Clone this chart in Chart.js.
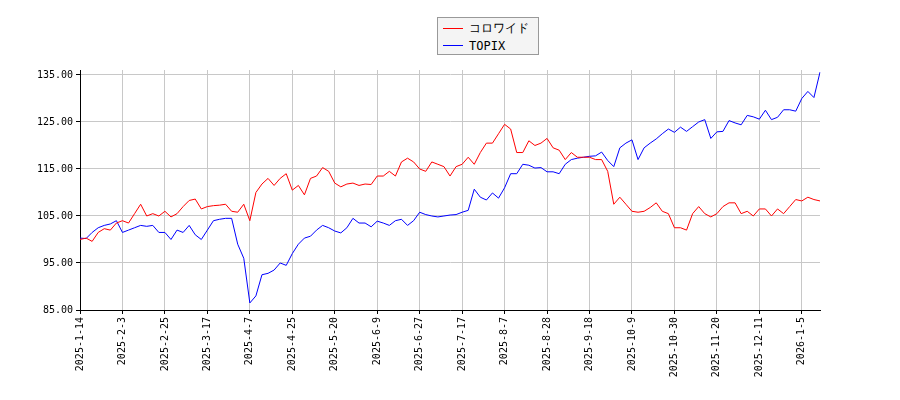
<!DOCTYPE html>
<html>
<head>
<meta charset="utf-8">
<script src="https://cdn.jsdelivr.net/npm/chart.js@4/dist/chart.umd.min.js"></script>
<style>
  body { margin: 0; background: #fff; }
  #wrap { position: relative; width: 900px; height: 400px; }
  #legend {
    position: absolute; left: 437px; top: 17px; width: 102px; height: 38px;
    border: 1px solid #999; background: #f4f4f4; box-sizing: border-box;
    font: 12px "DejaVu Sans Mono", monospace; color: #000;
  }
  .row { display: flex; align-items: center; height: 17px; padding-left: 5px; margin-top: 2px; }
  .sw { width: 20px; height: 0; border-top: 1.5px solid; margin-right: 6px; }
</style>
</head>
<body>
<div id="wrap">
  <canvas id="c" width="900" height="400"></canvas>
  <div id="legend">
    <div class="row"><span class="sw" style="border-color:#f00"></span>コロワイド</div>
    <div class="row" style="margin-top:0"><span class="sw" style="border-color:#00f"></span>TOPIX</div>
  </div>
</div>
<script>
// one point per two trading days, tick label every 7 points
const tickLabels = ["2025-1-14", "2025-2-3", "2025-2-25", "2025-3-17", "2025-4-7", "2025-4-25",
  "2025-5-20", "2025-6-9", "2025-6-27", "2025-7-17", "2025-8-7", "2025-8-28", "2025-9-18",
  "2025-10-9", "2025-10-30", "2025-11-20", "2025-12-11", "2026-1-5"];

const colowide = [
  100, 100.3, 99.6, 101.5, 102.3, 102, 103.5,
  104, 103.5, 105.5, 107.5, 105, 105.5, 105,
  106, 104.8, 105.5, 107, 108.3, 108.6, 106.5,
  107, 107.2, 107.3, 107.5, 106, 105.8, 107.5,
  104, 110, 111.8, 113, 111.5, 113, 114,
  110.5, 111.5, 109.5, 113, 113.5, 115.3, 114.5,
  112, 111.2, 111.8, 112, 111.5, 111.8, 111.7,
  113.5, 113.5, 114.5, 113.5, 116.5, 117.3, 116.5,
  115, 114.5, 116.5, 116, 115.5, 113.5, 115.5,
  116, 117.5, 116, 118.5, 120.5, 120.5, 122.5,
  124.5, 123.5, 118.5, 118.5, 121, 120, 120.5,
  121.5, 119.5, 119, 117, 118.5, 117.5, 117.5,
  117.5, 117, 117, 114.5, 107.5, 109, 107.5,
  106, 105.8, 106, 106.8, 107.8, 106, 105.5,
  102.5, 102.5, 102, 105.5, 107, 105.5, 104.8,
  105.5, 107, 107.8, 107.8, 105.5, 106, 105,
  106.5, 106.5, 105, 106.5, 105.5, 107, 108.5,
  108.2, 109, 108.5, 108.2
];

const topix = [
  100.3, 100.2, 101.5, 102.5, 103, 103.3, 104,
  101.5, 102, 102.5, 103, 102.8, 103, 101.5,
  101.5, 100, 102, 101.5, 103, 101, 100,
  102, 104, 104.3, 104.5, 104.5, 99, 96,
  86.5, 88, 92.5, 92.8, 93.5, 95, 94.5,
  97, 99, 100.3, 100.7, 102, 103, 102.5,
  101.8, 101.4, 102.5, 104.5, 103.5, 103.5, 102.7,
  103.9, 103.5, 103, 104, 104.3, 103, 104,
  105.8, 105.3, 105, 104.8, 105, 105.2, 105.3,
  105.8, 106.2, 110.7, 109, 108.4, 109.9, 108.8,
  111, 114, 114, 116, 115.8, 115.2, 115.3,
  114.4, 114.4, 114, 116, 117, 117.3, 117.5,
  117.7, 117.8, 118.6, 116.8, 115.5, 119.5, 120.5,
  121.2, 117, 119.5, 120.5, 121.4, 122.5, 123.5,
  122.8, 123.9, 123, 124, 125, 125.5, 121.5,
  122.9, 123, 125.3, 124.8, 124.4, 126.4, 126.1,
  125.6, 127.5, 125.5, 126, 127.6, 127.6, 127.3,
  130, 131.5, 130.2, 135.6
];

const labels = colowide.map((v, i) => (i % 7 === 0 ? tickLabels[i / 7] : ""));
const font = { family: "DejaVu Sans Mono", size: 10 };

new Chart(document.getElementById("c"), {
  type: "line",
  data: {
    labels,
    datasets: [
      { label: "コロワイド", data: colowide, borderColor: "#f00", borderWidth: 1, pointRadius: 0, tension: 0 },
      { label: "TOPIX", data: topix, borderColor: "#00f", borderWidth: 1, pointRadius: 0, tension: 0 }
    ]
  },
  options: {
    responsive: false,
    animation: false,
    layout: { padding: { left: 0, top: 70, right: 80, bottom: 0 } },
    plugins: { legend: { display: false }, tooltip: { enabled: false } },
    scales: {
      x: {
        offset: false,
        afterFit: (s) => { s.height = 90; },
        grid: { color: "#c8c8c8", tickLength: 4, tickColor: "#000" },
        border: { color: "#000" },
        ticks: {
          autoSkip: false, maxRotation: 90, minRotation: 90, color: "#000", font,
          callback: (v, i) => (labels[i] ? labels[i] : null)
        }
      },
      y: {
        min: 85, max: 136.06,
        afterFit: (s) => { s.width = 80; },
        afterBuildTicks: (s) => { s.ticks = [85, 95, 105, 115, 125, 135].map((value) => ({ value })); },
        grid: { color: "#c8c8c8", tickLength: 4, tickColor: "#000" },
        border: { color: "#000" },
        ticks: { color: "#000", font, callback: (v) => Number(v).toFixed(2) }
      }
    }
  }
});
</script>
</body>
</html>
